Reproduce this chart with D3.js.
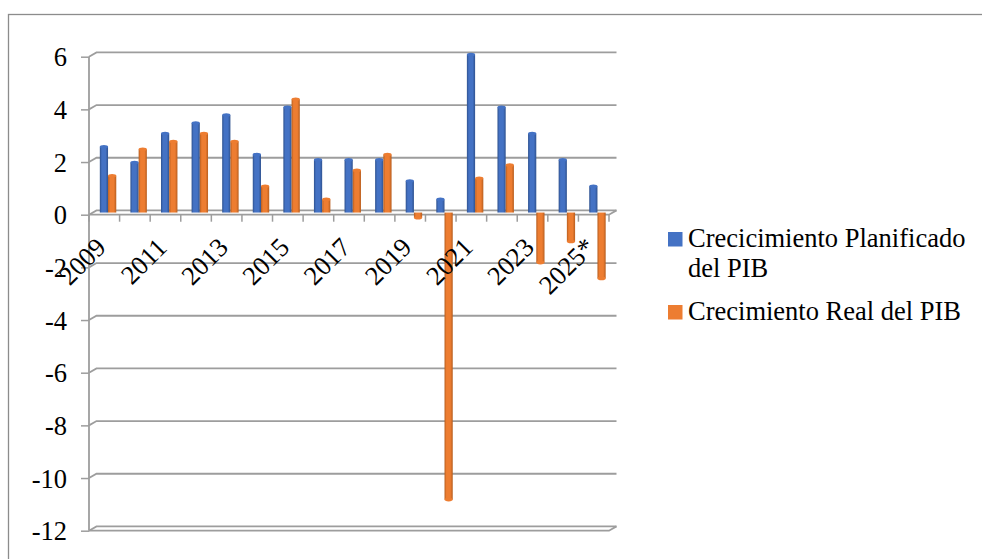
<!DOCTYPE html>
<html>
<head>
<meta charset="utf-8">
<script src="https://cdn.jsdelivr.net/npm/d3@7"></script>
<style>
  html, body { margin: 0; padding: 0; background: #ffffff; }
  svg { display: block; }
</style>
</head>
<body>
<svg id="chart" width="982" height="559"></svg>
<script>
// Years shown on the category axis (2025 is a preliminary estimate)
const years = ["2009","2010","2011","2012","2013","2014","2015","2016","2017",
               "2018","2019","2020","2021","2022","2023","2024","2025*"];
// Planned GDP growth (%)
const planned = [2.5, 1.9, 3.0, 3.4, 3.7, 2.2, 4.0, 2.0, 2.0, 2.0, 1.2, 0.5, 6.0, 4.0, 3.0, 2.0, 1.0];
// Actual GDP growth (%)
const actual  = [1.4, 2.4, 2.7, 3.0, 2.7, 1.0, 4.3, 0.5, 1.6, 2.2, -0.2, -10.9, 1.3, 1.8, -1.9, -1.1, -2.5];
const seriesNames = ["Crecicimiento Planificado del PIB", "Crecimiento Real del PIB"];
const yTicks = [6, 4, 2, 0, -2, -4, -6, -8, -10, -12];

const colors = ["#4472C4", "#ED7D31"];
const edgeColors = ["#2F528F", "#B85E1F"];
const FONT = '"Liberation Serif"';
const FONT_SIZE = "26.5px";

const svg = d3.select("#chart");

// Outer chart frame
svg.append("rect")
  .attr("x", 8.5).attr("y", 14.5).attr("width", 1000).attr("height", 600)
  .attr("fill", "none").attr("stroke", "#8c8c8c").attr("stroke-width", 1.3);

// Plot geometry: front plane, with a shallow depth offset for the back wall
const plotLeft = 89, plotRight = 609, plotTop = 56.7, plotBottom = 530.7;
const depthX = 7.5, depthY = -4.3;

const y = d3.scaleLinear().domain([-12, 6]).range([plotBottom, plotTop]);
const x0 = d3.scaleBand().domain(years).range([plotLeft, plotRight]).padding(0);
const bw = x0.bandwidth();
const x1 = d3.scaleBand().domain([0, 1]).range([0, bw]).paddingInner(0).paddingOuter(0.86);

// Gradients giving columns a rounded, shaded look
const defs = svg.append("defs");
colors.forEach((c, i) => {
  const g = defs.append("linearGradient").attr("id", "grad" + i)
    .attr("x1", "0%").attr("x2", "100%").attr("y1", "0%").attr("y2", "0%");
  g.append("stop").attr("offset", "0%").attr("stop-color", edgeColors[i]);
  g.append("stop").attr("offset", "25%").attr("stop-color", c);
  g.append("stop").attr("offset", "70%").attr("stop-color", c);
  g.append("stop").attr("offset", "100%").attr("stop-color", edgeColors[i]);
});

const gridColor = "#9d9d9d";

// Gridlines: short diagonal from the axis to the back wall, then across
const grid = svg.append("g");
yTicks.forEach(t => {
  const yy = y(t);
  grid.append("path")
    .attr("d", `M${plotLeft},${yy} L${plotLeft + depthX},${yy + depthY} L${plotRight + depthX},${yy + depthY}`)
    .attr("fill", "none").attr("stroke", gridColor).attr("stroke-width", 1.8);
});

// Floor planes at zero and at the bottom of the axis
[0, -12].forEach(v => {
  const yy = y(v);
  grid.append("path")
    .attr("d", `M${plotLeft},${yy} L${plotRight},${yy} L${plotRight + depthX},${yy + depthY}`)
    .attr("fill", "none").attr("stroke", gridColor).attr("stroke-width", 1.8);
});

// Vertical value axis with outward ticks
const yAxisG = svg.append("g").attr("transform", `translate(${plotLeft},0)`)
  .call(d3.axisLeft(y).tickValues(yTicks).tickSize(8).tickPadding(14).tickFormat(d => d));
yAxisG.select(".domain").attr("stroke", gridColor).attr("stroke-width", 1.8)
  .attr("d", `M0,${plotTop}V${plotBottom}`);
yAxisG.selectAll(".tick line").attr("stroke", gridColor).attr("stroke-width", 1.5);
yAxisG.selectAll(".tick text")
  .style("font-family", FONT).style("font-size", FONT_SIZE)
  .attr("fill", "#000").attr("dy", "0.34em");

// Category tick marks hanging below the zero line
const catEdges = years.map(d => x0(d)).concat([plotRight]);
svg.append("g").selectAll("line").data(catEdges).join("line")
  .attr("x1", d => d).attr("x2", d => d)
  .attr("y1", y(0)).attr("y2", y(0) + 7)
  .attr("stroke", gridColor).attr("stroke-width", 1.5);

// Columns, set at mid-depth
const midX = depthX / 2, midY = depthY / 2;
const barData = [];
years.forEach((yr, i) => {
  [planned[i], actual[i]].forEach((v, s) => barData.push({ yr, v, s }));
});
const bw1 = x1.bandwidth();
const bars = svg.append("g");
bars.selectAll("rect").data(barData).join("rect")
  .attr("x", d => x0(d.yr) + x1(d.s) + midX)
  .attr("y", d => Math.min(y(d.v), y(0)) + midY)
  .attr("width", bw1)
  .attr("height", d => Math.abs(y(d.v) - y(0)))
  .attr("fill", d => `url(#grad${d.s})`);
// Rounded end caps
bars.selectAll("ellipse").data(barData).join("ellipse")
  .attr("cx", d => x0(d.yr) + x1(d.s) + midX + bw1 / 2)
  .attr("cy", d => y(d.v) + midY)
  .attr("rx", bw1 / 2).attr("ry", 1.8)
  .attr("fill", d => colors[d.s]);

// Category labels every other year, rotated
const labelYears = years.filter((d, i) => i % 2 === 0);
svg.append("g").selectAll("text").data(labelYears).join("text")
  .attr("transform", d => `translate(${x0(d) + bw / 2 + 3},${249}) rotate(-45)`)
  .attr("text-anchor", "end")
  .attr("fill", "#000")
  .style("font-family", FONT).style("font-size", FONT_SIZE)
  .text(d => d);

// Legend
const legend = svg.append("g");
const legendItems = [
  { s: 0, lines: ["Crecicimiento Planificado", "del PIB"], y: 247 },
  { s: 1, lines: ["Crecimiento Real del PIB"], y: 320 }
];
legendItems.forEach(it => {
  legend.append("rect").attr("x", 668).attr("y", it.y - 15)
    .attr("width", 14.5).attr("height", 14.5).attr("fill", colors[it.s]);
  const t = legend.append("text").attr("x", 688).attr("y", it.y).attr("fill", "#000")
    .style("font-family", FONT).style("font-size", FONT_SIZE);
  it.lines.forEach((ln, k) => {
    t.append("tspan").attr("x", 688).attr("dy", k === 0 ? 0 : 30).text(ln);
  });
});
</script>
</body>
</html>
